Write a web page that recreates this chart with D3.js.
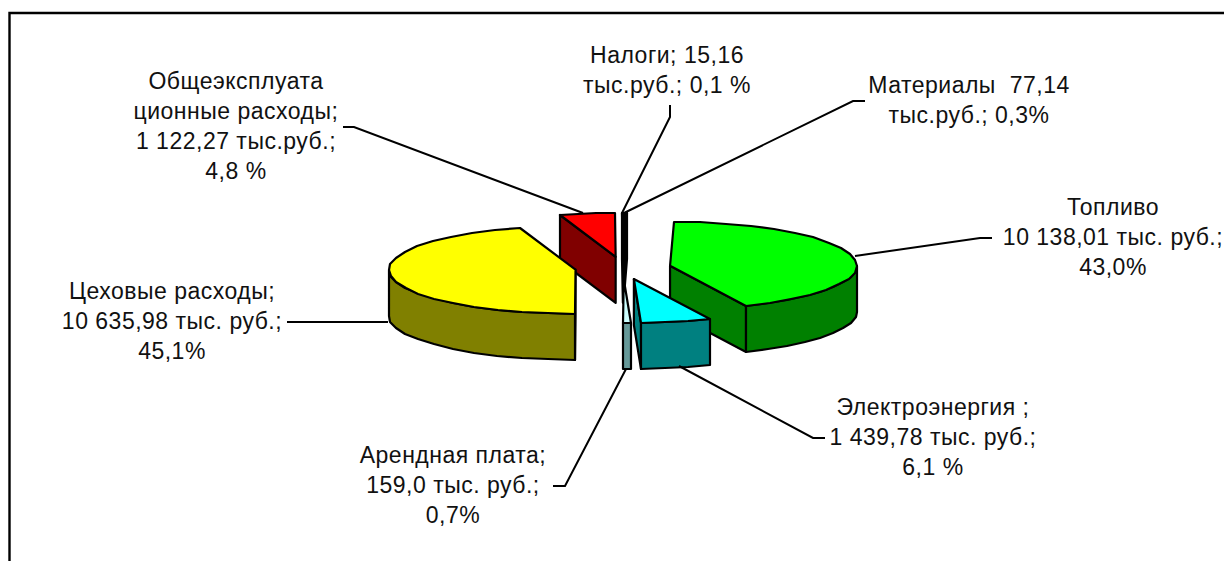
<!DOCTYPE html>
<html>
<head>
<meta charset="utf-8">
<script src="https://cdn.jsdelivr.net/npm/d3@7"></script>
<style>
    html, body { margin: 0; padding: 0; background: #fff; overflow: hidden; }
    svg { display: block; }
    text { font-family: "Liberation Sans", Arial, sans-serif; font-size: 23px; letter-spacing: 0.5px; fill: #111; white-space: pre; }
</style>
</head>
<body>
<svg id="svgPie" width="1224" height="561"></svg>
<script>
// Expenses, thousand rubles, clockwise from 12 o'clock
var categories = ['Материалы', 'Топливо', 'Электроэнергия', 'Арендная плата', 'Цеховые расходы', 'Общеэксплуатационные расходы', 'Налоги'];
var values = [77.14, 10138.01, 1439.78, 159.0, 10635.98, 1122.27, 15.16];

var labelLines = [
    ['Материалы  77,14', 'тыс.руб.; 0,3%'],
    ['Топливо', '10 138,01 тыс. руб.;', '43,0%'],
    ['Электроэнергия ;', '1 439,78 тыс. руб.;', '6,1 %'],
    ['Арендная плата;', '159,0 тыс. руб.;', '0,7%'],
    ['Цеховые расходы;', '10 635,98 тыс. руб.;', '45,1%'],
    ['Общеэксплуата', 'ционные расходы;', '1 122,27 тыс.руб.;', '4,8 %'],
    ['Налоги; 15,16', 'тыс.руб.; 0,1 %']
];

var topColors = ['#000000', '#00ff00', '#00ffff', '#ccffff', '#ffff00', '#ff0000', '#000000'];
var sideColors = ['#000000', '#008000', '#008080', '#669999', '#808000', '#800000', '#000000'];

// Layout of the labels and leader lines, in page pixels
var labelCenters = [[969, 93], [1113, 215], [933, 415], [453, 463], [172, 299], [236, 89], [667, 63]];
var leaders = [
    [[865, 101], [853, 101], [624, 213]],
    [[992, 238], [980, 238], [855, 256]],
    [[825, 438], [813, 438], [679, 366]],
    [[553, 486], [565, 486], [626, 369]],
    [[287, 322], [388, 322]],
    [[343, 127], [354, 127], [583, 213]],
    [[670, 105], [670, 117], [622, 213]]
];

var pieCenter = [623, 268];
var radiusX = 187;
var radiusY = 44;
var depth = 46;
var explode = 48;
var lineHeight = 30;

var svgPie = d3.select('#svgPie');

// Frame runs off the right and bottom of the picture
svgPie.append('path')
    .attr('d', 'M9.5,561V13H1224')
    .style('fill', 'none')
    .style('stroke', '#000')
    .style('stroke-width', 2.4);

// Flat circle to screen: sin/cos of the pie angle through a squashed ellipse
var projX = d3.scaleLinear().domain([-1, 1]).range([-radiusX, radiusX]);
var projY = d3.scaleLinear().domain([-1, 1]).range([radiusY, -radiusY]);

var pieMaker = d3.pie().sort(null).startAngle(0).endAngle(2 * Math.PI);
var slices = pieMaker(values).map(function (d, i) {
    let mid = (d.startAngle + d.endAngle) / 2;
    return {
        index: i,
        a0: d.startAngle,
        a1: d.endAngle,
        cx: pieCenter[0] + projX(Math.sin(mid)) * explode / radiusX,
        cy: pieCenter[1] + projY(Math.cos(mid)) * explode / radiusX
    };
});

function rimPoint(s, a, dy) {
    return [
        Math.round(s.cx + projX(Math.sin(a))),
        Math.round(s.cy + projY(Math.cos(a)) + dy)
    ];
}

// Rounded points along the rim, the original has the same stepped edge
function arcPoints(s, a0, a1, dy) {
    let n = Math.max(1, Math.ceil((a1 - a0) / (Math.PI / 22)));
    return d3.range(n + 1).map(function (k) {
        return rimPoint(s, a0 + (a1 - a0) * k / n, dy);
    });
}

var polyLine = d3.line();

function drawFace(g, points, fill) {
    g.append('path')
        .attr('d', polyLine(points) + 'Z')
        .style('fill', fill)
        .style('stroke', '#000')
        .style('stroke-width', 2.2)
        .style('stroke-linejoin', 'round');
}

// Back slices first so the nearer ones cover them
var order = slices.slice().sort(function (a, b) { return a.cy - b.cy; });
order.forEach(function (s) {
    let g = svgPie.append('g').attr('class', 'slice');
    let side = sideColors[s.index];
    let center = [s.cx, s.cy];
    let centerLow = [s.cx, s.cy + depth];

    // Cut faces turned towards the viewer
    if (s.a0 > Math.PI) {
        drawFace(g, [center, rimPoint(s, s.a0, 0), rimPoint(s, s.a0, depth), centerLow], side);
    }
    if (s.a1 < Math.PI) {
        drawFace(g, [center, rimPoint(s, s.a1, 0), rimPoint(s, s.a1, depth), centerLow], side);
    }

    // Front part of the rim
    let from = Math.max(s.a0, Math.PI / 2);
    let to = Math.min(s.a1, 3 * Math.PI / 2);
    if (to > from) {
        let upper = arcPoints(s, from, to, 0);
        let lower = arcPoints(s, from, to, depth).reverse();
        drawFace(g, upper.concat(lower), side);
    }

    drawFace(g, [center].concat(arcPoints(s, s.a0, s.a1, 0)), topColors[s.index]);
});

// Leader lines
svgPie.selectAll('path.leader')
    .data(leaders)
    .enter()
  .append('path')
    .attr('class', 'leader')
    .attr('d', function (d) { return polyLine(d); })
    .style('fill', 'none')
    .style('stroke', '#000')
    .style('stroke-width', 2);

// Labels
labelLines.forEach(function (lines, i) {
    svgPie.append('text')
        .attr('text-anchor', 'middle')
        .selectAll('tspan')
        .data(lines)
        .enter()
      .append('tspan')
        .attr('x', labelCenters[i][0])
        .attr('y', function (d, k) { return labelCenters[i][1] + k * lineHeight; })
        .text(function (d) { return d; });
});
</script>
</body>
</html>
